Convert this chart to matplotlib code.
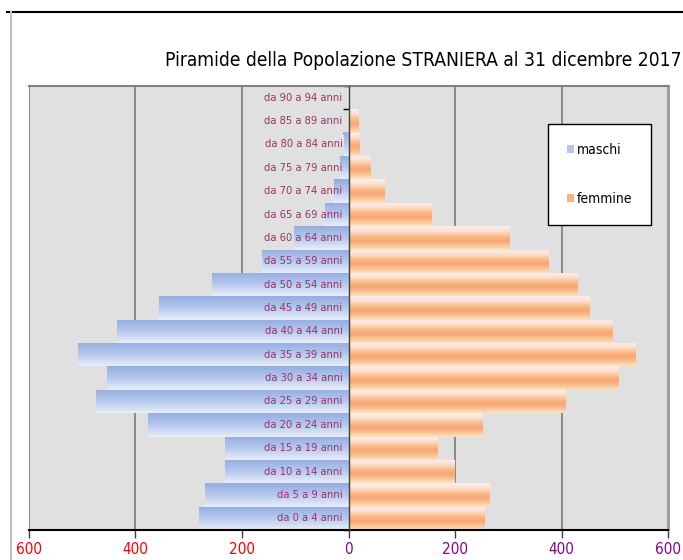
import numpy as np
import matplotlib
matplotlib.use("Agg")
import matplotlib.pyplot as plt
from matplotlib.lines import Line2D
from matplotlib.colors import LinearSegmentedColormap
from matplotlib.patches import Patch
import matplotlib.transforms as mtransforms
from matplotlib import font_manager as fm

# ---- data ----
categories = ["da 0 a 4 anni", "da 5 a 9 anni", "da 10 a 14 anni", "da 15 a 19 anni",
              "da 20 a 24 anni", "da 25 a 29 anni", "da 30 a 34 anni", "da 35 a 39 anni",
              "da 40 a 44 anni", "da 45 a 49 anni", "da 50 a 54 anni", "da 55 a 59 anni",
              "da 60 a 64 anni", "da 65 a 69 anni", "da 70 a 74 anni", "da 75 a 79 anni",
              "da 80 a 84 anni", "da 85 a 89 anni", "da 90 a 94 anni"]
maschi = [280, 269, 231, 231, 376, 474, 453, 508, 435, 356, 256, 163,
          103, 44, 28, 16, 9, 0, 0]
femmine = [254, 264, 199, 167, 251, 406, 506, 538, 495, 452, 429, 374,
           302, 154, 66, 41, 19, 17, 0]
xticks_vals = [-600, -400, -200, 0, 200, 400, 600]
title = "Piramide della Popolazione STRANIERA al 31 dicembre 2017"

# find a condensed font if any
cond = None
for f in fm.fontManager.ttflist:
    if "Narrow" in f.name or "Condensed" in f.name or (f.stretch in ("condensed", "semi-condensed") and f.name == "DejaVu Sans"):
        if f.weight in (400, "normal", "regular") and f.style == "normal":
            cond = f
            break
if cond is not None:
    NARROW_PROP = dict(fname=cond.fname)
else:
    NARROW_PROP = dict(family="DejaVu Sans")

def nprop(size):
    return fm.FontProperties(size=size, **NARROW_PROP)

fig = plt.figure(figsize=(6.83, 5.60), dpi=100)
fig.patch.set_facecolor("white")
ax = fig.add_axes([29 / 683, 1 - 530 / 560, 639 / 683, 444 / 560])
ax.set_facecolor("#e0e0e0")

y = np.arange(len(categories))
blue_cmap = LinearSegmentedColormap.from_list("b", ["#94ade0", "#b6c8ee", "#e8eef9"])
orange_cmap = LinearSegmentedColormap.from_list(
    "o", [(0.0, "#fdeeea"), (0.2, "#fde0d4"), (0.45, "#f9b880"),
          (0.62, "#f7a676"), (0.85, "#fbc898"), (1.0, "#fde2c4")])

bars_m = ax.barh(y, [-v for v in maschi], height=1.0, color="none", edgecolor="none", zorder=2)
bars_f = ax.barh(y, femmine, height=1.0, color="none", edgecolor="none", zorder=2)

grad = np.linspace(0, 1, 64).reshape(-1, 1)
for bars, cmap in ((bars_m, blue_cmap), (bars_f, orange_cmap)):
    for b in bars:
        x0, y0 = b.get_x(), b.get_y()
        w, h = b.get_width(), b.get_height()
        if w == 0:
            continue
        im = ax.imshow(grad, cmap=cmap, aspect="auto", origin="upper",
                       extent=(min(x0, x0 + w), max(x0, x0 + w), y0, y0 + h),
                       zorder=2, interpolation="bilinear")
        im.set_clip_path(b)

ax.set_xlim(-600, 600)
ax.set_ylim(-0.5, len(categories) - 0.5)

for gx in (-400, -200, 200, 400):
    ax.axvline(gx, color="#7a7a7a", lw=1.2, zorder=0.5)
ax.axvline(-600, color="#8c8c8c", lw=1.5, zorder=0.6)

ax.spines["left"].set_position(("data", 0))
ax.spines["left"].set_color("#404040")
ax.spines["left"].set_linewidth(1.0)
ax.spines["left"].set_zorder(3)
ax.spines["top"].set_color("#808080")
ax.spines["top"].set_linewidth(1.5)
ax.spines["right"].set_color("#a0a0a0")
ax.spines["right"].set_linewidth(2.2)
ax.spines["bottom"].set_color("black")
ax.spines["bottom"].set_linewidth(1.5)

ax.set_yticks(np.arange(len(categories) + 1) - 0.5)
ax.set_yticklabels([])
ax.tick_params(axis="y", direction="out", length=4, width=1, color="black")

ax.set_xticks(xticks_vals)
ax.set_xticklabels([str(abs(v)) for v in xticks_vals])
ax.tick_params(axis="x", direction="out", length=6, width=1, color="#404040", pad=3)
for lab, v in zip(ax.get_xticklabels(), xticks_vals):
    lab.set_color("#ff0000" if v < 0 else "#8b008b")
    lab.set_fontproperties(nprop(11))

offs = mtransforms.offset_copy(ax.transData, fig=fig, x=-6, y=0, units="dots")
for yi, cat in zip(y, categories):
    ax.text(0, yi, cat, transform=offs, ha="right", va="center",
            color="#993366", fontproperties=nprop(8.0), zorder=4)

fig.text(423 / 683, 1 - 60 / 560, title, ha="center", va="center",
         fontproperties=nprop(13.8), color="black")

handles = [Patch(facecolor="#b4c6ee", edgecolor="none"),
           Patch(facecolor="#f9b482", edgecolor="none")]
leg = fig.legend(handles, ["maschi", "femmine"], loc="upper left",
                 bbox_to_anchor=(548 / 683, 1 - 124 / 560), borderaxespad=0,
                 frameon=True, fancybox=False, handlelength=0.55, handleheight=0.55,
                 handletextpad=0.15, labelspacing=2.55, borderpad=1.35,
                 prop=nprop(10.0))
leg.get_frame().set_edgecolor("black")
leg.get_frame().set_linewidth(1.0)
leg.get_frame().set_facecolor("white")
leg.get_frame().set_alpha(1.0)

fig.add_artist(Line2D([7 / 683, 1], [1 - 12 / 560, 1 - 12 / 560], color="black", lw=1.5,
                      transform=fig.transFigure))
fig.add_artist(Line2D([10.5 / 683, 10.5 / 683], [1 - 12 / 560, 0], color="#c0c0c0", lw=1.5,
                      transform=fig.transFigure))

fig.savefig("out.png", dpi=100)
